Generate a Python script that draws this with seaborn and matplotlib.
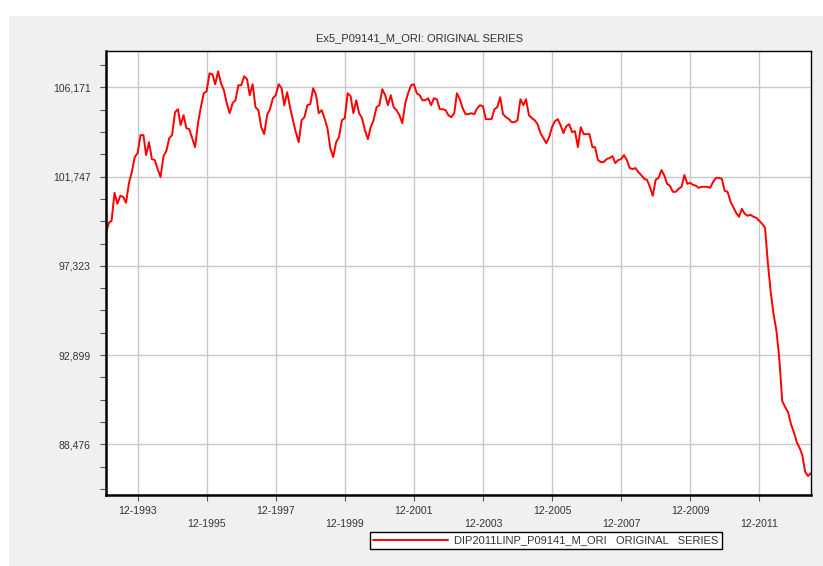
import seaborn as sns
import matplotlib.pyplot as plt
import matplotlib.ticker as mticker
from matplotlib.patches import Rectangle
import pandas as pd

# series info
title = 'Ex5_P09141_M_ORI: ORIGINAL SERIES'
series_label = 'DIP2011LINP_P09141_M_ORI   ORIGINAL   SERIES'
start_month = '1993-01-01'

# monthly values, one row per year (1993 .. 2013)
values = [
    98960, 99455, 99554, 100940, 100396, 100792, 100742, 100445, 101435, 101969, 102711, 102909,
    103798, 103798, 102810, 103452, 102612, 102563, 102118, 101722, 102760, 103007, 103650, 103798,
    104935, 105084, 104293, 104787, 104144, 104095, 103650, 103205, 104392, 105182, 105874, 105973,
    106863, 106814, 106319, 106962, 106369, 106023, 105380, 104886, 105380, 105528, 106270, 106270,
    106715, 106566, 105776, 106319, 105182, 105034, 104194, 103848, 104787, 105084, 105627, 105776,
    106319, 106122, 105281, 105924, 105182, 104540, 103947, 103452, 104540, 104688, 105281, 105331,
    106122, 105776, 104886, 105034, 104639, 104144, 103156, 102711, 103452, 103699, 104540, 104639,
    105874, 105726, 104886, 105528, 104886, 104639, 104046, 103601, 104194, 104540, 105182, 105281,
    106072, 105776, 105281, 105776, 105182, 105034, 104787, 104392, 105380, 105874, 106270, 106319,
    105874, 105776, 105528, 105528, 105627, 105281, 105627, 105578, 105084, 105084, 105034, 104787,
    104688, 104886, 105874, 105578, 105133, 104836, 104836, 104886, 104836, 105133, 105281, 105232,
    104589, 104589, 104589, 105084, 105182, 105677, 104836, 104688, 104589, 104441, 104441, 104540,
    105578, 105281, 105578, 104787, 104639, 104540, 104342, 103897, 103650, 103403, 103699, 104194,
    104490, 104589, 104293, 103897, 104243, 104342, 103947, 103996, 103205, 104194, 103848, 103848,
    103848, 103205, 103205, 102563, 102464, 102464, 102612, 102661, 102760, 102414, 102563, 102612,
    102810, 102563, 102167, 102118, 102167, 101969, 101821, 101633, 101584, 101237, 100792, 101584,
    101683, 102068, 101821, 101386, 101287, 100990, 100990, 101138, 101237, 101821, 101386, 101435,
    101336, 101287, 101188, 101237, 101237, 101237, 101188, 101485, 101683, 101683, 101633, 101039,
    100990, 100495, 100247, 99950, 99752, 100148, 99901, 99802, 99851, 99752, 99703, 99554,
    99406, 99208, 97506, 96021, 94932, 94091, 92701, 90622, 90325, 90078, 89484, 89088,
    88590, 88293, 87946, 87105, 86907, 87055,
]

ytick_values = [88476, 92899, 97323, 101747, 106171]
xtick_years = [1993, 1995, 1997, 1999, 2001, 2003, 2005, 2007, 2009, 2011]

df = pd.DataFrame({
    'date': pd.date_range(start_month, periods=len(values), freq='MS'),
    'value': values,
})

sns.set_style('white')
plt.rcParams['font.family'] = ['Liberation Sans', 'DejaVu Sans']
text_color = '#333333'
grid_color = '#c8c8c8'
font_size = 7.5

fig = plt.figure(figsize=(8.23, 5.66), dpi=100, facecolor='white')
# grey panel behind the chart
fig.patches.append(Rectangle((9 / 823, 0), 1, (566 - 16) / 566, transform=fig.transFigure,
                             facecolor='#f0f0f0', edgecolor='none', zorder=-10))
ax = fig.add_axes([106 / 823, 71 / 566, 705 / 823, 444 / 566])
ax.set_facecolor('white')

sns.lineplot(data=df, x='date', y='value', color='#ff0000', lw=1.4, ax=ax, label=series_label)

ax.set_xlim(df['date'].iloc[0], df['date'].iloc[-1])
ax.set_ylim(85966, 107968)

# y axis
ax.set_yticks(ytick_values)
ax.yaxis.set_major_formatter(mticker.FuncFormatter(lambda v, p: f'{v:,.0f}'))
ax.yaxis.set_minor_locator(mticker.AutoMinorLocator(4))

# x axis, labels staggered on two rows
xticks = [pd.Timestamp(f'{y}-12-01') for y in xtick_years]
xlabels = [f'12-{y}' if k % 2 == 0 else f'\n12-{y}' for k, y in enumerate(xtick_years)]
ax.set_xticks(xticks)
ax.set_xticklabels(xlabels)
plt.setp(ax.get_xticklabels(), linespacing=1.4)

ax.set_xlabel('')
ax.set_ylabel('')

ax.grid(True, which='major', color=grid_color, lw=1)
ax.grid(False, which='minor')

ax.tick_params(axis='both', which='both', direction='out', color='#555555',
               labelsize=font_size, labelcolor=text_color, width=0.8)
ax.tick_params(axis='x', which='major', bottom=True, length=4, pad=4)
ax.tick_params(axis='y', which='both', left=True, length=4, pad=7)

for side, sp in ax.spines.items():
    sp.set_visible(True)
    sp.set_color('black')
    sp.set_linewidth(1.8 if side in ('left', 'bottom') else 1.0)

fig.text(420 / 823, 1 - 38 / 566, title, ha='center', va='center',
         fontsize=8, color=text_color)

leg = ax.legend(loc='center left', bbox_to_anchor=(370 / 823, (566 - 540.5) / 566),
                bbox_transform=fig.transFigure, frameon=True, fancybox=False,
                edgecolor='black', facecolor='white', framealpha=1,
                fontsize=8, handlelength=6.7, handletextpad=0.6,
                borderpad=0.3, borderaxespad=0)
leg.get_frame().set_linewidth(1.0)
for t in leg.get_texts():
    t.set_color(text_color)

plt.savefig('out.png', dpi=100, facecolor=fig.get_facecolor())
